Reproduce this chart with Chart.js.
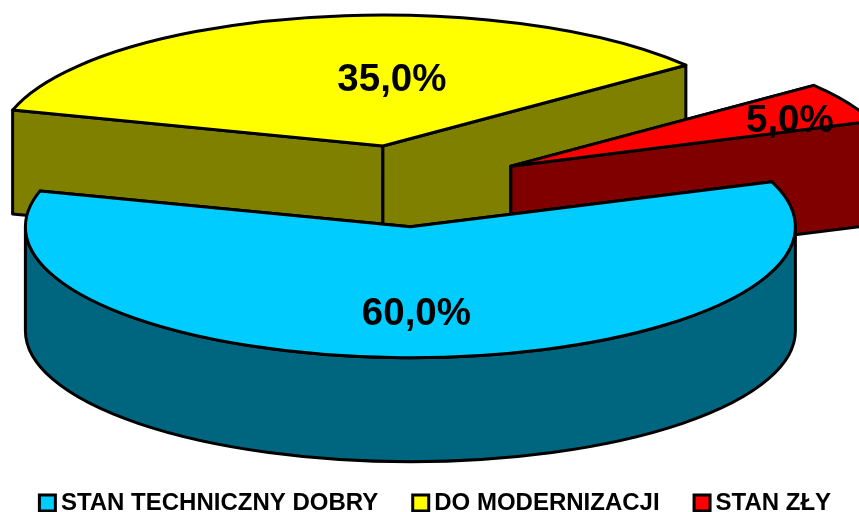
<!DOCTYPE html>
<html lang="pl">
<head>
<meta charset="utf-8">
<title>Stan techniczny</title>
<script src="https://cdn.jsdelivr.net/npm/chart.js@4"></script>
<style>
    html, body { margin: 0; padding: 0; background: #fff; }
    #wrap { position: relative; width: 859px; height: 512px; overflow: hidden; }
</style>
</head>
<body>
<div id="wrap"><canvas id="pie"></canvas></div>
<script>
const categories = ['STAN TECHNICZNY DOBRY', 'DO MODERNIZACJI', 'STAN ZŁY'];
const values = [60, 35, 5];
const topColors = ['#00ccff', '#ffff00', '#ff0000'];
const sideColors = ['#006680', '#808000', '#800000'];

// look of the 3D pie
const centerX = 406;
const centerY = 186;
const squash = 0.34;
const depth = 104;
const explode = 120;
const labelShift = [[6, 88], [9, -66], [279, -45]];
const drawOrder = [1, 2, 0];

function polska(v) {
    return v.toFixed(1).replace('.', ',') + '%';
}

const pie3d = {
    id: 'pie3d',
    afterLayout(chart) {
        // legend sits against the bottom edge of the picture
        const lg = chart.legend;
        lg.top += 13;
        lg.bottom += 13;
        lg.left += 9;
        lg.right += 9;
    },
    beforeDatasetsDraw(chart) {
        const ctx = chart.ctx;
        const arcs = chart.getDatasetMeta(0).data;
        ctx.save();
        ctx.lineWidth = 3;
        ctx.lineJoin = 'round';
        ctx.strokeStyle = '#000';

        const tips = arcs.map(a => {
            const mid = (a.startAngle + a.endAngle) / 2;
            return {
                x: centerX + explode * Math.cos(mid),
                y: centerY + explode * Math.sin(mid) * squash
            };
        });

        function shape(fill, build) {
            ctx.beginPath();
            build();
            ctx.closePath();
            ctx.fillStyle = fill;
            ctx.fill();
            ctx.stroke();
        }

        drawOrder.forEach(i => {
            const a = arcs[i];
            const t = tips[i];
            const r = a.outerRadius;
            const ry = r * squash;
            const s = a.startAngle;
            const e = a.endAngle;

            // flat side walls
            [s, e].forEach(ang => {
                const ex = t.x + r * Math.cos(ang);
                const ey = t.y + ry * Math.sin(ang);
                shape(sideColors[i], () => {
                    ctx.moveTo(t.x, t.y);
                    ctx.lineTo(ex, ey);
                    ctx.lineTo(ex, ey + depth);
                    ctx.lineTo(t.x, t.y + depth);
                });
            });

            // round wall, only the front half of the ellipse can be seen
            const from = Math.max(s, 0);
            const to = Math.min(e, Math.PI);
            if (to > from) {
                shape(sideColors[i], () => {
                    ctx.ellipse(t.x, t.y, r, ry, 0, from, to);
                    ctx.ellipse(t.x, t.y + depth, r, ry, 0, to, from, true);
                });
            }

            // top of the slice
            shape(topColors[i], () => {
                ctx.moveTo(t.x, t.y);
                ctx.ellipse(t.x, t.y, r, ry, 0, s, e);
            });
        });

        ctx.fillStyle = '#000';
        ctx.font = 'bold 38.5px "Liberation Sans", Arial, sans-serif';
        ctx.textAlign = 'center';
        ctx.textBaseline = 'middle';
        arcs.forEach((a, i) => {
            ctx.fillText(polska(values[i]), tips[i].x + labelShift[i][0], tips[i].y + labelShift[i][1]);
        });
        ctx.restore();
        return false;
    }
};

new Chart(document.getElementById('pie'), {
    type: 'pie',
    data: {
        labels: categories,
        datasets: [{
            data: values,
            backgroundColor: topColors,
            borderColor: '#000',
            borderWidth: 3
        }]
    },
    options: {
        responsive: true,
        maintainAspectRatio: false,
        animation: false,
        rotation: 69.9,
        radius: 385,
        // negative so the legend stays on one row
        layout: { padding: { left: -10, right: -10 } },
        plugins: {
            tooltip: { enabled: false },
            legend: {
                position: 'bottom',
                labels: {
                    usePointStyle: true,
                    pointStyle: 'rect',
                    boxWidth: 3,
                    boxHeight: 16,
                    padding: 41,
                    color: '#000',
                    font: { family: '"Liberation Sans", Arial, sans-serif', size: 24, weight: 'bold' }
                }
            }
        }
    },
    plugins: [pie3d]
});
</script>
</body>
</html>
